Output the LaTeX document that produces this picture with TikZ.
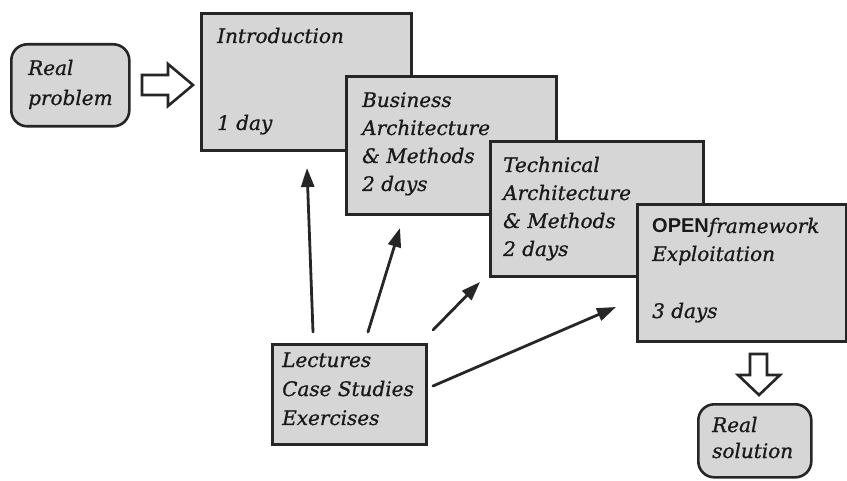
\documentclass[tikz,border=0pt]{standalone}
\usepackage{fontspec}
\setmainfont{DejaVu Serif}[ItalicFeatures={FakeBold=0.9}]
\newfontfamily\opensans{Liberation Sans}
\usetikzlibrary{arrows.meta}
% stacked lines whose reference point is the first baseline
\newcommand{\stack}[1]{\begin{tabular}[t]{@{}l@{}}#1\end{tabular}}
\begin{document}
\begin{tikzpicture}[x=1pt,y=-1pt,
  card/.style={draw=black!85, line width=2.6pt, fill=black!16, inner sep=0pt,
    anchor=north west},
  roundcard/.style={card, rounded corners=16pt},
  lbl/.style={anchor=base west, inner sep=0pt, text=black!90,
    font=\fontsize{20}{28}\selectfont\itshape},
  feed/.style={line width=2.8pt, draw=black!85, line cap=round,
    -{Triangle[length=19pt,width=13pt]}},
  hollow/.style={draw=black!85, line width=2.6pt, fill=white, line join=miter}
]
\useasboundingbox (0,0) rectangle (847,481);

% course modules, each overlapping the previous one
\node[card, minimum width=210pt, minimum height=137pt] (intro) at (200,12) {};
\node[lbl] (introA) at (217,43) {Introduction};
\node[lbl] (introB) at (217,130) {1 day};

\node[card, minimum width=210pt, minimum height=138pt] (bus) at (345,75) {};
\node[lbl] (busT) at (362,107) {\stack{Business\\Architecture\\\& Methods\\2 days}};

\node[card, minimum width=213pt, minimum height=135pt] (tech) at (489,140) {};
\node[lbl] (techT) at (503,172) {\stack{Technical\\Architecture\\\& Methods\\2 days}};

\node[card, minimum width=209pt, minimum height=137pt] (open) at (636,203) {};
\node[lbl] (openA) at (652,233) {\stack{{\opensans\upshape\bfseries OPEN}framework\\Exploitation}};
\node[lbl] (openB) at (652,318) {3 days};

% teaching material
\node[card, minimum width=154pt, minimum height=100pt] (lect) at (271,343) {};
\node[lbl, font=\fontsize{20}{29}\selectfont\itshape] (lectT) at (282,367)
  {\stack{Lectures\\Case Studies\\Exercises}};

% start and end of the course
\node[roundcard, minimum width=118pt, minimum height=82pt] (prob) at (10,43) {};
\node[lbl, font=\fontsize{20}{30}\selectfont\itshape] (probT) at (28,75) {\stack{Real\\problem}};

\node[roundcard, minimum width=113pt, minimum height=73pt] (sol) at (697,403) {};
\node[lbl, font=\fontsize{20}{26}\selectfont\itshape] (solT) at (712,432) {\stack{Real\\solution}};

% hollow block arrows
\draw[hollow] (142,75) -- (168,75) -- (168,64) -- (193,85) -- (168,106)
  -- (168,95) -- (142,95) -- cycle;
\draw[hollow] (750,354) -- (767,354) -- (767,375) -- (780,375) -- (759,395)
  -- (738,375) -- (750,375) -- cycle;

% material feeding each module
\coordinate (s1) at (313,332); \coordinate (t1) at (307,168);
\coordinate (s2) at (368,332); \coordinate (t2) at (400,228);
\coordinate (s3) at (433,330); \coordinate (t3) at (480,282);
\coordinate (s4) at (433,386); \coordinate (t4) at (616,307);
\draw[feed] (s1) -- (t1);
\draw[feed] (s2) -- (t2);
\draw[feed] (s3) -- (t3);
\draw[feed] (s4) -- (t4);
\end{tikzpicture}
\end{document}
